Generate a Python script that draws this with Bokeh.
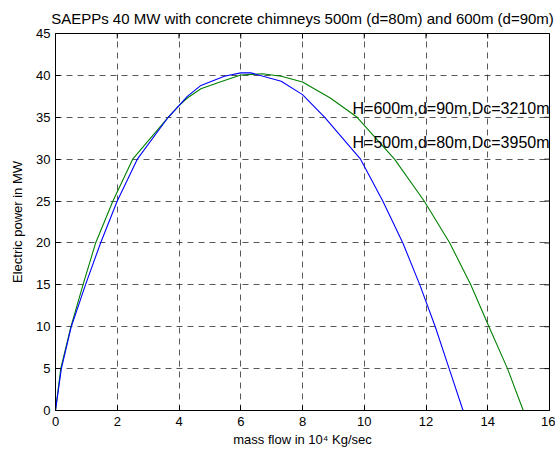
import math
from bokeh.plotting import figure
from bokeh.models import Label, FixedTicker, Range1d
from bokeh.embed import file_html
from bokeh.resources import INLINE

# ---- data (mass flow in 10^4 kg/s, electric power in MW) ----
mass_500 = [0, 0.19, 0.51, 0.97, 1.46, 2.0, 2.65, 3.65, 4.0, 4.27, 4.71, 5.47,
            6.0, 6.33, 7.31, 8.0, 8.72, 9.88, 10.6, 11.25, 11.8, 12.3, 12.75, 13.2, 16]
power_500 = [0, 5, 10, 15, 20, 25, 30, 35, 36.4, 37.5, 38.8, 39.9,
             40.3, 40.3, 39.3, 37.7, 35, 30, 25, 20, 15, 10, 5, 0, 0]

mass_600 = [0, 0.17, 0.5, 0.89, 1.30, 1.86, 2.50, 3.65, 4.0, 4.27, 4.71, 5.47,
            6.0, 6.7, 7.31, 8.0, 8.9, 9.77, 10.98, 11.94, 12.77, 13.45, 14.04, 14.64, 15.15, 16]
power_600 = [0, 5, 10, 15, 20, 25, 30, 35, 36.4, 37.3, 38.4, 39.4,
             40.05, 40.2, 39.9, 39.2, 37.3, 35, 30, 25, 20, 15, 10, 5, 0, 0]

x_ticks = [0, 2, 4, 6, 8, 10, 12, 14, 16]
y_ticks = [0, 5, 10, 15, 20, 25, 30, 35, 40, 45]

label_600 = "H=600m,d=90m,Dc=3210m"
label_500 = "H=500m,d=80m,Dc=3950m"
title_text = "SAEPPs 40 MW with concrete chimneys 500m (d=80m) and 600m (d=90m)"

FONT = "Liberation Sans"

p = figure(width=555, height=453, output_backend="svg", toolbar_location=None,
           x_range=Range1d(x_ticks[0], x_ticks[-1]), y_range=Range1d(y_ticks[0], y_ticks[-1]),
           min_border_left=55, min_border_right=6, min_border_top=33, min_border_bottom=43,
           title=title_text)
p.title.align = "center"
p.title.text_font = FONT
p.title.text_font_size = "15px"
p.title.text_font_style = "normal"
p.title.text_color = "black"
p.title.standoff = 13

p.outline_line_color = "black"
p.outline_line_width = 1
p.background_fill_color = "white"
p.border_fill_color = "white"

xa = p.xaxis[0]
ya = p.yaxis[0]
xa.ticker = FixedTicker(ticks=x_ticks)
ya.ticker = FixedTicker(ticks=y_ticks)
for ax in (xa, ya):
    ax.major_tick_in = 5
    ax.major_tick_out = 0
    ax.minor_tick_line_color = None
    ax.axis_line_color = "black"
    ax.major_tick_line_color = "black"
    ax.major_label_text_font = FONT
    ax.major_label_text_font_size = "13px"
    ax.major_label_text_color = "black"
    ax.axis_label_text_font = FONT
    ax.axis_label_text_font_size = "13px"
    ax.axis_label_text_font_style = "normal"
    ax.axis_label_text_color = "black"
xa.axis_label = "mass flow in 10\u2074 Kg/sec"
ya.axis_label = "Electric power in MW"
xa.major_label_standoff = 6
xa.axis_label_standoff = 3
ya.major_label_standoff = 5
ya.axis_label_standoff = 8

for g in (p.xgrid[0], p.ygrid[0]):
    g.grid_line_color = "#222222"
    g.grid_line_alpha = 0.75
    g.grid_line_dash = "6 5"
    g.grid_line_width = 1
p.xgrid[0].ticker = FixedTicker(ticks=x_ticks)
p.ygrid[0].ticker = FixedTicker(ticks=y_ticks)

# inward ticks on top and right edges of the box (half of each dash is clipped by the frame)
p.scatter(x=x_ticks, y=[y_ticks[-1]] * len(x_ticks), marker="dash", size=10,
          angle=math.pi / 2, line_color="black", line_width=1)
p.scatter(x=[x_ticks[-1]] * len(y_ticks), y=y_ticks, marker="dash", size=10,
          line_color="black", line_width=1)

p.line(mass_600, power_600, line_color="#008000", line_width=1.1)
p.line(mass_500, power_500, line_color="#0000ff", line_width=1.1)

for txt, yy in ((label_600, 36.0), (label_500, 32.0)):
    p.add_layout(Label(x=9.62, y=yy, text=txt, text_font=FONT, text_font_size="16px",
                       text_baseline="middle", text_align="left", text_color="black"))

open("out.html", "w").write(file_html(p, INLINE))
